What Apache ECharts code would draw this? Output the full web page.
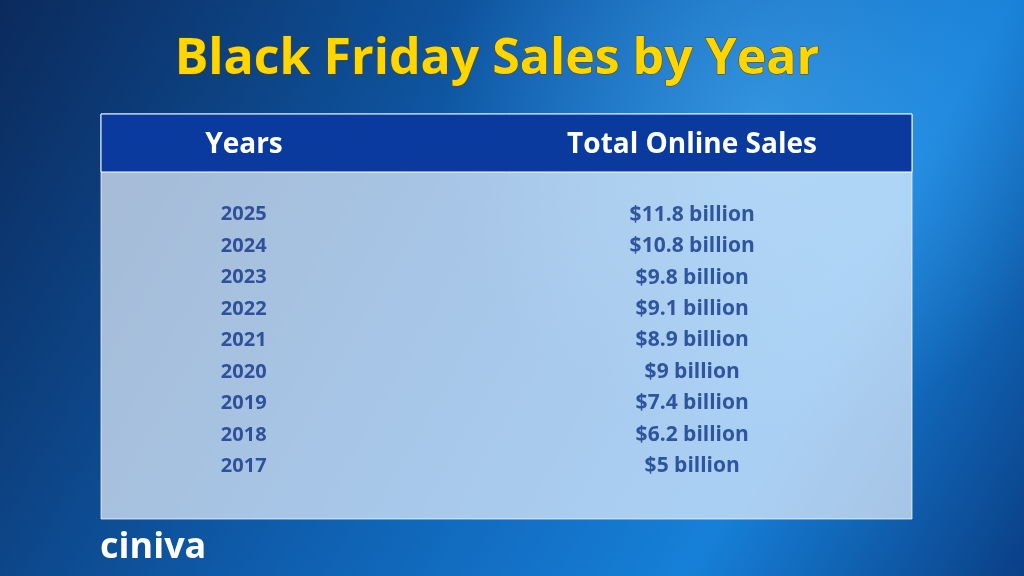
<!DOCTYPE html>
<html lang="en">
<head>
  <meta charset="UTF-8">
  <title>Black Friday Sales by Year</title>
  <script src="https://cdn.jsdelivr.net/npm/echarts/dist/echarts.min.js"></script>
  <style>
    html, body { margin: 0; padding: 0; background: #0a1f4a; }
    #chart { width: 1024px; height: 576px; }
  </style>
</head>
<body>
<div id="chart"></div>
<script>
  // table content
  const years = ["2025", "2024", "2023", "2022", "2021", "2020", "2019", "2018", "2017"];
  const sales = ["$11.8 billion", "$10.8 billion", "$9.8 billion", "$9.1 billion", "$8.9 billion",
                 "$9 billion", "$7.4 billion", "$6.2 billion", "$5 billion"];
  const headers = ["Years", "Total Online Sales"];

  const chart = echarts.init(document.getElementById("chart"));
  const font = "'Open Sans', 'Noto Sans', sans-serif";
  const cellColor = "#12358a";

  const option = {
    backgroundColor: {
      type: "linear", x: 0, y: 0, x2: 1, y2: 1,
      colorStops: [
        { offset: 0, color: "#0b2a5c" },
        { offset: 0.45, color: "#0f5fb0" },
        { offset: 0.75, color: "#1680d8" },
        { offset: 1, color: "#0a3f86" }
      ]
    },
    graphic: [
      // glow at top right
      { type: "circle", shape: { cx: 760, cy: 120, r: 320 }, z: 0,
        style: { fill: { type: "radial", x: 0.5, y: 0.5, r: 0.5,
          colorStops: [{ offset: 0, color: "rgba(90,190,255,0.45)" }, { offset: 1, color: "rgba(90,190,255,0)" }] } } },
      // title
      { type: "text", x: 497, y: 60, z: 10,
        style: { text: "Black Friday Sales by Year", fill: "#ffd600", font: "bold 50px " + font,
                 align: "center", verticalAlign: "middle",
                 stroke: "#5a4a00", lineWidth: 1, shadowColor: "rgba(0,0,0,0.8)", shadowBlur: 4,
                 shadowOffsetX: 3, shadowOffsetY: 3 } },
      // table panel
      { type: "rect", shape: { x: 101, y: 114, width: 811, height: 405 }, z: 1,
        style: { fill: "rgba(232,242,255,0.7)", stroke: "rgba(255,255,255,0.7)", lineWidth: 1 } },
      { type: "rect", shape: { x: 101, y: 114, width: 811, height: 58 }, z: 2,
        style: { fill: "#0b3a9e", stroke: "#ffffff", lineWidth: 1 } },
      { type: "text", x: 244, y: 145, z: 3,
        style: { text: headers[0], fill: "#ffffff", font: "bold 28px " + font, align: "center", verticalAlign: "middle" } },
      { type: "text", x: 692, y: 145, z: 3,
        style: { text: headers[1], fill: "#ffffff", font: "bold 28px " + font, align: "center", verticalAlign: "middle" } },
      // logo
      { type: "text", x: 100, y: 548, z: 3,
        style: { text: "ciniva", fill: "#ffffff", font: "bold 36px " + font, verticalAlign: "middle" } }
    ],
    grid: { left: 101, right: 112, top: 199, bottom: 94 },
    xAxis: { type: "value", min: 0, max: 1, show: false },
    yAxis: { type: "category", data: years, inverse: true, show: false },
    series: [
      {
        type: "scatter", symbolSize: 0, z: 5,
        data: years.map((y, i) => [0.176, i]),
        label: { show: true, position: "inside", formatter: p => years[p.dataIndex],
                 color: cellColor, fontFamily: font, fontWeight: "bold", fontSize: 20 }
      },
      {
        type: "scatter", symbolSize: 0, z: 5,
        data: sales.map((s, i) => [0.729, i]),
        label: { show: true, position: "inside", formatter: p => sales[p.dataIndex],
                 color: cellColor, fontFamily: font, fontWeight: "bold", fontSize: 21 }
      }
    ]
  };
  chart.setOption(option);
</script>
</body>
</html>
